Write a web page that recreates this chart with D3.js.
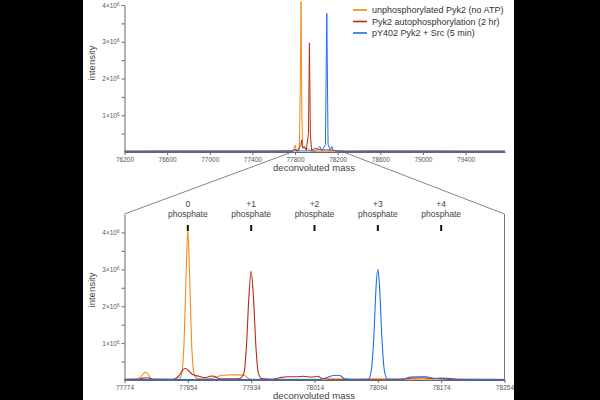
<!DOCTYPE html>
<html>
<head>
<meta charset="utf-8">
<script src="https://cdn.jsdelivr.net/npm/d3@7/dist/d3.min.js"></script>
<style>
  body { margin: 0; background: #000; }
  svg { display: block; font-family: "Liberation Sans", Arial, sans-serif; }
  .axis path, .axis line { stroke: #666; }
  .axis text { fill: #555; font-size: 6.5px; font-family: "Liberation Sans", Arial, sans-serif; }
</style>
</head>
<body>
<svg id="chart" width="600" height="400"></svg>
<script>
// series names + colours
const seriesNames = ["unphosphorylated Pyk2 (no ATP)", "Pyk2 autophosphorylation (2 hr)", "pY402 Pyk2 + Src (5 min)"];
const seriesColors = ["#f58a1f", "#b52a12", "#1f6fe6"];

// overview spectra: [mass, intensity]
const topUnphos = [[76200,0.02e6],[76700,0.03e6],[77200,0.02e6],[77600,0.02e6],[77780,0.03e6],[77800,0.19e6],[77815,0.02e6],[77840,0.05e6],[77848,1.5e6],[77856,4.09e6],[77864,1.0e6],[77872,0.1e6],[77900,0.1e6],[77930,0.08e6],[77950,0.02e6],[78400,0.02e6],[79000,0.02e6],[79770,0.02e6]];
const topAuto = [[76200,0.02e6],[77780,0.02e6],[77800,0.08e6],[77820,0.03e6],[77855,0.2e6],[77863,0.33e6],[77870,0.12e6],[77890,0.15e6],[77905,0.05e6],[77926,0.5e6],[77935,2.97e6],[77944,0.5e6],[77955,0.05e6],[77990,0.1e6],[78020,0.06e6],[78150,0.05e6],[78200,0.02e6],[79770,0.02e6]];
const topSrc = [[76200,0.02e6],[77990,0.03e6],[78010,0.08e6],[78033,0.15e6],[78050,0.03e6],[78085,0.2e6],[78098,3.77e6],[78110,0.2e6],[78130,0.05e6],[78145,0.15e6],[78160,0.04e6],[78300,0.02e6],[78500,0.03e6],[79770,0.02e6]];

// zoomed spectra
const zoomUnphos = [[77774,0.02e6],[77790,0.03e6],[77795,0.1e6],[77800,0.21e6],[77804,0.15e6],[77808,0.03e6],[77830,0.02e6],[77842,0.02e6],[77846,0.15e6],[77849,0.9e6],[77852,3.0e6],[77854,4.07e6],[77856,3.0e6],[77859,0.9e6],[77862,0.15e6],[77866,0.04e6],[77880,0.03e6],[77890,0.08e6],[77898,0.13e6],[77910,0.14e6],[77920,0.14e6],[77926,0.12e6],[77930,0.05e6],[77936,0.02e6],[78000,0.02e6],[78254,0.02e6]];
const zoomAuto = [[77774,0.02e6],[77790,0.02e6],[77797,0.05e6],[77803,0.06e6],[77810,0.02e6],[77835,0.02e6],[77843,0.12e6],[77848,0.28e6],[77851,0.32e6],[77855,0.25e6],[77860,0.15e6],[77868,0.1e6],[77876,0.06e6],[77882,0.1e6],[77886,0.11e6],[77890,0.07e6],[77895,0.03e6],[77910,0.03e6],[77920,0.04e6],[77925,0.2e6],[77928,0.9e6],[77931,2.2e6],[77934,2.95e6],[77937,2.2e6],[77940,0.9e6],[77943,0.2e6],[77947,0.04e6],[77960,0.02e6],[77970,0.06e6],[77980,0.09e6],[77992,0.09e6],[78000,0.1e6],[78010,0.08e6],[78018,0.1e6],[78024,0.04e6],[78035,0.02e6],[78120,0.02e6],[78135,0.05e6],[78150,0.06e6],[78165,0.04e6],[78175,0.05e6],[78185,0.04e6],[78195,0.02e6],[78254,0.01e6]];
const zoomSrc = [[77774,0.01e6],[78020,0.01e6],[78030,0.07e6],[78040,0.13e6],[78046,0.12e6],[78052,0.03e6],[78060,0.01e6],[78082,0.02e6],[78086,0.3e6],[78089,1.2e6],[78092,2.6e6],[78094,3.0e6],[78096,2.6e6],[78099,1.2e6],[78102,0.3e6],[78106,0.02e6],[78125,0.02e6],[78135,0.08e6],[78145,0.09e6],[78155,0.09e6],[78162,0.05e6],[78170,0.04e6],[78178,0.03e6],[78185,0.01e6],[78254,0.01e6]];

const topXTicks = [76200, 76600, 77000, 77400, 77800, 78200, 78600, 79000, 79400];
const zoomXTicks = [77774, 77854, 77934, 78014, 78094, 78174, 78254];
const yTicks = [0.5e6, 1e6, 1.5e6, 2e6, 2.5e6, 3e6, 3.5e6, 4e6];
const phosLabels = ["0", "+1", "+2", "+3", "+4"];
const phosMasses = [77854, 77934, 78014, 78094, 78174];

const svg = d3.select("#chart");
svg.append("rect").attr("x", 83).attr("y", 0).attr("width", 431).attr("height", 400).attr("fill", "#fff");

// scales
const xTop = d3.scaleLinear().domain([76200, 79770]).range([124.5, 505]);
const yTop = d3.scaleLinear().domain([0, 4e6]).range([152, 5]);
const xZoom = d3.scaleLinear().domain([77774, 78254]).range([124.5, 504.5]);
const yZoom = d3.scaleLinear().domain([0, 4.5e6]).range([380, 214]);

// y tick label with superscript
function sciLabels(sel) {
  sel.selectAll(".tick text").each(function(d) {
    const t = d3.select(this);
    t.text("");
    if (d % 1e6 !== 0) return;
    t.append("tspan").text((d / 1e6) + "×10");
    t.append("tspan").attr("dy", "-0.45em").attr("font-size", "4.5px").text("6");
  });
}

function drawAxes(x, y, xTicks, yBottom) {
  const gx = svg.append("g").attr("class", "axis")
    .attr("transform", `translate(0,${yBottom})`)
    .call(d3.axisBottom(x).tickValues(xTicks).tickFormat(d3.format("d")).tickSize(3).tickSizeOuter(0).tickPadding(2));
  const gy = svg.append("g").attr("class", "axis")
    .attr("transform", "translate(124.5,0)")
    .call(d3.axisLeft(y).tickValues(yTicks).tickSize(3).tickSizeOuter(0).tickPadding(2));
  sciLabels(gy);
  return gx;
}

drawAxes(xTop, yTop, topXTicks, 152);
drawAxes(xZoom, yZoom, zoomXTicks, 380);

// right border of zoom panel
svg.append("line").attr("x1", 504.5).attr("x2", 504.5).attr("y1", yZoom(4.5e6)).attr("y2", 380)
  .attr("stroke", "#777").attr("stroke-width", 1);

// connector lines
svg.append("line").attr("x1", xTop(77774)).attr("y1", 152).attr("x2", 124.5).attr("y2", yZoom(4.5e6))
  .attr("stroke", "#666").attr("stroke-width", 0.8);
svg.append("line").attr("x1", xTop(78254)).attr("y1", 152).attr("x2", 504.5).attr("y2", yZoom(4.5e6))
  .attr("stroke", "#666").attr("stroke-width", 0.8);

// spectra
const topLine = d3.line().x(d => xTop(d[0])).y(d => yTop(d[1]));
const zoomLine = d3.line().x(d => xZoom(d[0])).y(d => yZoom(d[1])).curve(d3.curveMonotoneX);

[topUnphos, topAuto, topSrc].forEach((s, i) => {
  svg.append("path").datum(s).attr("d", topLine)
    .attr("fill", "none").attr("stroke", seriesColors[i]).attr("stroke-width", 1);
});
[zoomUnphos, zoomAuto, zoomSrc].forEach((s, i) => {
  svg.append("path").datum(s).attr("d", zoomLine)
    .attr("fill", "none").attr("stroke", seriesColors[i]).attr("stroke-width", 1.1);
});

// axis titles
svg.append("text").attr("x", 314).attr("y", 171).attr("text-anchor", "middle")
  .attr("font-size", "9.5px").attr("fill", "#444").text("deconvoluted mass");
svg.append("text").attr("x", 314).attr("y", 399).attr("text-anchor", "middle")
  .attr("font-size", "9.5px").attr("fill", "#444").text("deconvoluted mass");
svg.append("text").attr("transform", "translate(95,63) rotate(-90)").attr("text-anchor", "middle")
  .attr("font-size", "9.5px").attr("fill", "#444").text("intensity");
svg.append("text").attr("transform", "translate(95,290) rotate(-90)").attr("text-anchor", "middle")
  .attr("font-size", "9.5px").attr("fill", "#444").text("intensity");

// phosphate annotations
phosMasses.forEach((m, i) => {
  const x = xZoom(m);
  svg.append("text").attr("x", x).attr("y", 207).attr("text-anchor", "middle")
    .attr("font-size", "8.5px").attr("fill", "#444").text(phosLabels[i]);
  svg.append("text").attr("x", x).attr("y", 217).attr("text-anchor", "middle")
    .attr("font-size", "8.5px").attr("fill", "#444").text("phosphate");
  svg.append("rect").attr("x", x - 1).attr("y", 225).attr("width", 2).attr("height", 6).attr("fill", "#111");
});

// legend
const legend = svg.append("g");
seriesNames.forEach((name, i) => {
  const y = 10 + i * 11.5;
  legend.append("line").attr("x1", 353).attr("x2", 367).attr("y1", y).attr("y2", y)
    .attr("stroke", seriesColors[i]).attr("stroke-width", 1.6);
  legend.append("text").attr("x", 372).attr("y", y + 3).attr("font-size", "9px").attr("fill", "#333").text(name);
});

// black side bars
svg.append("rect").attr("x", 0).attr("y", 0).attr("width", 83).attr("height", 400).attr("fill", "#000");
svg.append("rect").attr("x", 514).attr("y", 0).attr("width", 86).attr("height", 400).attr("fill", "#000");
</script>
</body>
</html>
